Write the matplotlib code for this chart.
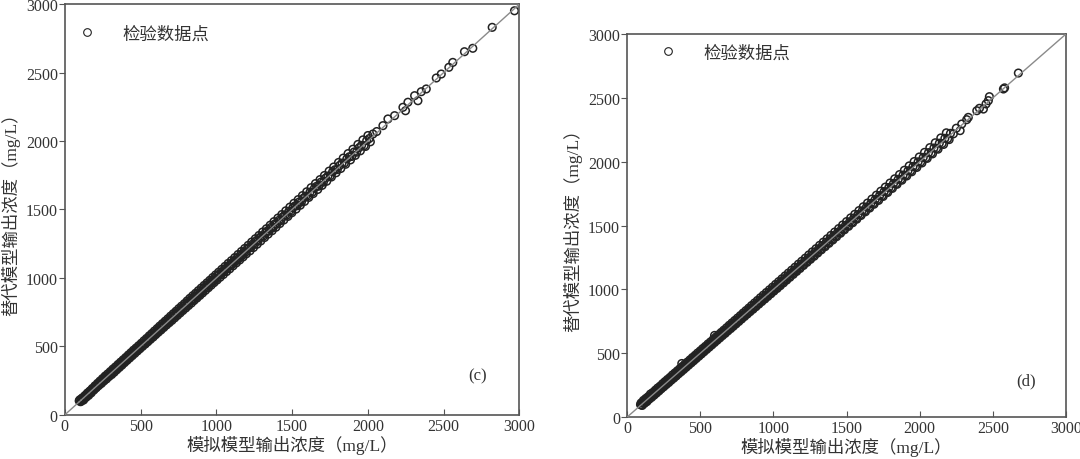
import matplotlib
matplotlib.use("Agg")
import matplotlib.pyplot as plt
from matplotlib.lines import Line2D

# panel (c): simulation model output vs surrogate model output, mg/L
c_sim = [95, 104, 112, 120, 128, 137, 146, 153, 161, 170, 178, 186, 195, 203, 211, 220, 228, 236,
         245, 253, 262, 270, 279, 287, 296, 304, 313, 321, 330, 338, 347, 355, 364, 372, 381, 389,
         398, 406, 415, 423, 432, 440, 449, 457, 466, 474, 483, 491, 500, 509, 517, 526, 535, 543,
         552, 561, 569, 578, 587, 595, 604, 613, 622, 630, 639, 648, 657, 666, 675, 684, 693, 702,
         711, 720, 729, 738, 747, 756, 765, 774, 784, 793, 802, 811, 820, 830, 839, 848, 858, 867,
         876, 886, 895, 904, 914, 923, 933, 942, 952, 961, 971, 980, 990, 1000, 1010, 1020, 1030,
         1041, 1051, 1062, 1072, 1083, 1094, 1104, 1115, 1126, 1137, 1148, 1159, 1170, 1181, 1193,
         1204, 1216, 1227, 1239, 1251, 1263, 1275, 1287, 1299, 1311, 1324, 1336, 1348, 1361, 1374,
         1386, 1399, 1412, 1425, 1438, 1452, 1465, 1478, 1492, 1505, 1519, 1533, 1547, 1561, 1575,
         1589, 1603, 1618, 1632, 1647, 1661, 1676, 1691, 1706, 1721, 1736, 1751, 1767, 1782, 1798,
         1813, 1829, 1845, 1861, 1877, 1893, 1909, 1925, 1942, 1958, 1975, 1992, 2009, 2033, 2058,
         2099, 2132, 2176, 2231, 2248, 2264, 2308, 2330, 2352, 2385, 2451, 2484, 2534, 2560, 2637,
         2692, 2820, 2967]
c_sur = [102, 96, 118, 113, 131, 133, 151, 148, 166, 164, 183, 190, 189, 208, 205, 226, 224, 241,
         239, 259, 258, 276, 283, 282, 301, 298, 319, 317, 335, 333, 352, 361, 358, 378, 376, 395,
         393, 412, 409, 430, 428, 446, 444, 463, 470, 469, 489, 486, 506, 503, 524, 520, 541, 538,
         559, 555, 576, 583, 580, 602, 599, 620, 616, 638, 634, 656, 651, 673, 670, 692, 687, 709,
         706, 728, 724, 745, 741, 764, 760, 781, 778, 801, 797, 819, 815, 836, 845, 843, 866, 861,
         884, 880, 903, 899, 921, 931, 927, 950, 946, 968, 978, 975, 998, 994, 1018, 1028, 1024,
         1049, 1046, 1070, 1067, 1090, 1101, 1099, 1123, 1121, 1145, 1142, 1167, 1164, 1189, 1188,
         1212, 1223, 1221, 1247, 1245, 1271, 1269, 1295, 1306, 1305, 1331, 1343, 1341, 1369, 1367,
         1394, 1393, 1420, 1418, 1446, 1459, 1458, 1486, 1485, 1513, 1526, 1527, 1555, 1554, 1583,
         1596, 1597, 1627, 1625, 1655, 1669, 1670, 1700, 1699, 1729, 1744, 1745, 1775, 1790, 1791,
         1821, 1838, 1839, 1870, 1885, 1887, 1920, 1918, 1951, 1968, 1966, 2003, 2018, 2051, 2069,
         2112, 2161, 2185, 2246, 2221, 2283, 2331, 2294, 2360, 2380, 2460, 2489, 2538, 2574, 2652,
         2677, 2830, 2951]
# second run of (c) points, spread either side of the diagonal
c_sim_b = [99, 108, 116, 124, 133, 141, 150, 157, 166, 174, 182, 191, 199, 207, 216, 224, 232, 241,
           249, 258, 266, 275, 283, 292, 300, 309, 317, 326, 334, 343, 351, 360, 368, 377, 385, 394,
           402, 411, 419, 428, 436, 445, 453, 462, 470, 479, 487, 496, 505, 513, 522, 531, 539, 548,
           557, 565, 574, 583, 591, 600, 609, 617, 626, 635, 644, 653, 662, 671, 680, 689, 698, 707,
           716, 725, 734, 743, 752, 761, 770, 779, 789, 798, 807, 816, 825, 835, 844, 853, 863, 872,
           881, 891, 900, 909, 919, 928, 938, 947, 957, 966, 976, 985, 995, 1005, 1015, 1025, 1036,
           1046, 1057, 1067, 1078, 1088, 1099, 1110, 1121, 1132, 1143, 1154, 1165, 1176, 1187, 1198,
           1210, 1222, 1233, 1245, 1257, 1269, 1281, 1293, 1305, 1318, 1330, 1342, 1355, 1368, 1380,
           1393, 1406, 1419, 1432, 1445, 1458, 1472, 1485, 1498, 1512, 1526, 1540, 1554, 1568, 1582,
           1596, 1610, 1625, 1639, 1654, 1669, 1684, 1698, 1713, 1728, 1744, 1759, 1774, 1790, 1806,
           1821, 1837, 1853, 1869, 1885, 1901, 1917, 1934, 1950, 1967, 1984, 2000, 2016]
c_sur_b = [110, 100, 124, 108, 141, 128, 160, 142, 175, 160, 193, 180, 212, 197, 230, 214, 247, 229,
           265, 247, 283, 262, 299, 280, 316, 294, 334, 311, 350, 329, 368, 346, 385, 363, 402, 381,
           419, 398, 437, 415, 454, 432, 472, 449, 488, 466, 505, 483, 523, 500, 541, 517, 558, 534,
           577, 551, 594, 568, 612, 586, 630, 603, 648, 620, 666, 638, 684, 656, 702, 673, 721, 690,
           739, 708, 757, 726, 776, 744, 794, 762, 812, 780, 832, 798, 851, 816, 870, 835, 888, 853,
           907, 872, 926, 890, 945, 909, 964, 928, 983, 947, 1003, 966, 1022, 985, 1042, 1005, 1063,
           1025, 1084, 1046, 1106, 1066, 1126, 1088, 1148, 1110, 1171, 1131, 1193, 1153, 1215, 1176,
           1238, 1198, 1262, 1222, 1286, 1246, 1310, 1270, 1335, 1295, 1359, 1320, 1385, 1345, 1411,
           1370, 1437, 1397, 1463, 1423, 1490, 1449, 1517, 1476, 1545, 1503, 1572, 1531, 1601, 1559,
           1629, 1588, 1659, 1616, 1689, 1646, 1718, 1676, 1748, 1706, 1780, 1737, 1810, 1768, 1843,
           1799, 1875, 1830, 1908, 1862, 1940, 1895, 1975, 1928, 2008, 1960, 2040, 1994]

# panel (d)
d_sim = [92, 100, 108, 116, 124, 132, 140, 148, 156, 164, 172, 180, 189, 197, 205, 213, 222, 230,
         238, 247, 255, 263, 272, 280, 289, 297, 306, 314, 323, 331, 340, 348, 357, 365, 374, 374,
         382, 391, 399, 408, 417, 425, 434, 443, 451, 460, 469, 478, 486, 495, 504, 513, 521, 530,
         539, 548, 557, 566, 575, 584, 593, 598, 602, 611, 620, 629, 638, 647, 656, 666, 675, 684,
         693, 703, 712, 721, 731, 740, 750, 759, 769, 778, 788, 798, 807, 817, 827, 836, 846, 856,
         866, 876, 886, 896, 906, 916, 926, 936, 947, 957, 967, 978, 988, 999, 1009, 1020, 1031,
         1041, 1052, 1063, 1074, 1085, 1096, 1108, 1119, 1130, 1142, 1153, 1165, 1177, 1188, 1200,
         1212, 1224, 1236, 1248, 1260, 1272, 1285, 1297, 1309, 1322, 1334, 1347, 1360, 1373, 1386,
         1399, 1412, 1425, 1439, 1452, 1466, 1479, 1493, 1507, 1521, 1535, 1549, 1563, 1578, 1592,
         1607, 1621, 1636, 1651, 1666, 1681, 1696, 1711, 1726, 1742, 1757, 1773, 1789, 1805, 1821,
         1837, 1853, 1870, 1886, 1903, 1920, 1937, 1954, 1971, 1989, 2006, 2024, 2042, 2060, 2078,
         2097, 2115, 2134, 2153, 2172, 2191, 2210, 2230, 2250, 2276, 2287, 2321, 2332, 2390, 2408,
         2435, 2453, 2469, 2476, 2572, 2580, 2674]
d_sur = [98, 94, 113, 111, 129, 127, 145, 143, 161, 160, 177, 176, 194, 192, 210, 209, 227, 225,
         244, 242, 261, 258, 277, 276, 294, 292, 311, 309, 328, 326, 345, 343, 363, 360, 379, 420,
         377, 396, 394, 413, 412, 431, 429, 448, 446, 466, 464, 483, 481, 501, 499, 518, 516, 536,
         534, 553, 552, 571, 570, 590, 588, 640, 607, 606, 626, 624, 644, 642, 662, 660, 680, 679,
         699, 697, 718, 716, 737, 735, 755, 754, 775, 772, 793, 792, 813, 811, 833, 831, 852, 850,
         872, 870, 892, 890, 912, 910, 932, 930, 953, 951, 974, 971, 994, 993, 1016, 1013, 1037,
         1035, 1059, 1057, 1081, 1079, 1103, 1101, 1126, 1124, 1149, 1147, 1172, 1170, 1196, 1193,
         1219, 1218, 1243, 1241, 1268, 1266, 1292, 1290, 1317, 1315, 1342, 1340, 1368, 1366, 1394,
         1392, 1420, 1418, 1447, 1445, 1474, 1472, 1501, 1499, 1529, 1527, 1558, 1555, 1586, 1584,
         1615, 1613, 1645, 1643, 1674, 1673, 1705, 1703, 1735, 1733, 1766, 1764, 1798, 1796, 1830,
         1828, 1862, 1861, 1895, 1894, 1929, 1928, 1963, 1962, 1999, 1997, 2034, 2031, 2071, 2068,
         2107, 2104, 2145, 2142, 2183, 2180, 2222, 2218, 2262, 2243, 2295, 2329, 2347, 2399, 2418,
         2412, 2452, 2478, 2509, 2569, 2578, 2694]
d_sim_b = [96, 104, 112, 120, 128, 136, 144, 152, 160, 168, 176, 185, 193, 201, 209, 218, 226, 234,
           243, 251, 259, 268, 276, 285, 293, 302, 310, 319, 327, 336, 344, 353, 361, 370, 378, 387,
           395, 404, 413, 421, 430, 439, 447, 456, 465, 473, 482, 491, 500, 508, 517, 526, 535, 544,
           553, 562, 571, 580, 589, 598, 607, 616, 625, 634, 643, 652, 661, 671, 680, 689, 698, 708,
           717, 726, 736, 745, 755, 764, 774, 783, 793, 803, 812, 822, 832, 841, 851, 861, 871, 881,
           891, 901, 911, 921, 931, 942, 952, 962, 973, 983, 994, 1004, 1015, 1026, 1036, 1047, 1058,
           1069, 1080, 1091, 1102, 1113, 1125, 1136, 1148, 1159, 1171, 1182, 1194, 1206, 1218, 1230,
           1242, 1254, 1266, 1279, 1291, 1303, 1316, 1328, 1341, 1354, 1367, 1380, 1393, 1406, 1419,
           1432, 1446, 1459, 1473, 1486, 1500, 1514, 1528, 1542, 1556, 1570, 1585, 1599, 1614, 1629,
           1643, 1658, 1673, 1688, 1704, 1719, 1734, 1750, 1765, 1781, 1797, 1813, 1829, 1845, 1862,
           1878, 1895, 1911, 1928, 1945, 1962, 1980, 1997, 2015, 2033, 2051, 2069, 2087, 2106, 2125,
           2144, 2163, 2182, 2201]
d_sur_b = [111, 92, 131, 109, 146, 122, 160, 141, 181, 155, 193, 172, 211, 188, 228, 205, 243, 222,
           262, 238, 278, 255, 295, 271, 311, 289, 330, 305, 346, 322, 363, 340, 380, 356, 397, 373,
           415, 390, 432, 407, 449, 425, 467, 442, 484, 459, 502, 477, 519, 494, 537, 512, 554, 530,
           573, 548, 590, 566, 609, 584, 627, 602, 645, 620, 663, 638, 681, 656, 700, 675, 719, 693,
           738, 711, 757, 730, 776, 749, 795, 768, 815, 788, 834, 807, 854, 826, 874, 845, 894, 865,
           914, 885, 935, 905, 955, 925, 976, 945, 997, 966, 1018, 987, 1040, 1008, 1061, 1029, 1083,
           1051, 1106, 1073, 1128, 1095, 1151, 1118, 1174, 1141, 1198, 1164, 1221, 1188, 1245, 1212,
           1270, 1236, 1294, 1260, 1319, 1285, 1345, 1310, 1370, 1335, 1396, 1361, 1423, 1387, 1449,
           1413, 1476, 1440, 1504, 1467, 1531, 1494, 1560, 1522, 1588, 1550, 1617, 1579, 1647, 1608,
           1676, 1637, 1707, 1667, 1738, 1697, 1769, 1728, 1801, 1759, 1833, 1791, 1866, 1823, 1899,
           1855, 1933, 1888, 1967, 1921, 2001, 1955, 2037, 1990, 2073, 2026, 2110, 2061, 2148, 2098,
           2186, 2135, 2226, 2173]

TICKS = [0, 500, 1000, 1500, 2000, 2500, 3000]
TEXT_COLOR = "#333333"
EDGE_COLOR = "#222222"
FONTS = ["Liberation Serif", "Noto Sans CJK SC", "DejaVu Sans"]

plt.rcParams["font.family"] = FONTS
plt.rcParams["axes.unicode_minus"] = False


def draw_panel(ax, sims, surs, tag, legend_at):
    for sim, sur in zip(sims, surs):
        ax.scatter(sim, sur, s=30, facecolors="none", edgecolors=EDGE_COLOR,
                   linewidths=1.1, zorder=2)
    # 1:1 line sits on top of the point cloud
    ax.plot([0, 3000], [0, 3000], color="#8a8a8a", linewidth=1.0, zorder=3)
    ax.set_xlim(0, 3000)
    ax.set_ylim(0, 3000)
    ax.set_xticks(TICKS)
    ax.set_yticks(TICKS)
    ax.tick_params(axis="x", direction="in", length=4, color="#555555",
                   labelsize=11.5, labelcolor=TEXT_COLOR, pad=2)
    ax.tick_params(axis="y", direction="out", length=4, color="#555555",
                   labelsize=11.5, labelcolor=TEXT_COLOR, pad=1)
    for spine in ax.spines.values():
        spine.set_color("#555555")
        spine.set_linewidth(1.2)
    ax.set_xlabel("模拟模型输出浓度（mg/L）", fontsize=12.5, color=TEXT_COLOR, labelpad=1)
    ax.set_ylabel("替代模型输出浓度（mg/L）", fontsize=12.5, color=TEXT_COLOR, labelpad=4)
    handle = Line2D([], [], linestyle="none", marker="o", markersize=5.5,
                    markerfacecolor="none", markeredgecolor=EDGE_COLOR, markeredgewidth=0.8)
    ax.legend([handle], ["检验数据点"], loc="center left", bbox_to_anchor=legend_at,
              frameon=False, fontsize=12.5, handlelength=1.0, handletextpad=1.55,
              borderaxespad=0.0, borderpad=0.0, labelcolor=TEXT_COLOR)
    ax.text(0.908, 0.097, tag, transform=ax.transAxes, ha="center", va="center",
            fontsize=12, color=TEXT_COLOR)


def main():
    fig = plt.figure(figsize=(10.8, 4.6), dpi=100)
    ax_c = fig.add_axes([0.060, 0.096, 0.421, 0.893])
    ax_d = fig.add_axes([0.5806, 0.091, 0.4065, 0.833])
    draw_panel(ax_c, [c_sim, c_sim_b], [c_sur, c_sur_b], "(c)", (0.029, 0.927))
    draw_panel(ax_d, [d_sim, d_sim_b], [d_sur, d_sur_b], "(d)", (0.0736, 0.950))
    fig.savefig("out.png", dpi=100)
    plt.close(fig)


if __name__ == "__main__":
    main()
